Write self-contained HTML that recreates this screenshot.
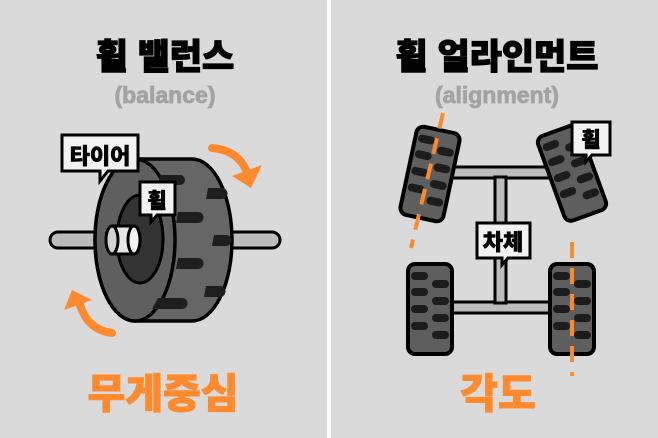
<!DOCTYPE html>
<html><head><meta charset="utf-8"><style>
html,body{margin:0;padding:0;background:#dadada;}
svg{display:block;}
text{font-family:"Liberation Sans","Noto Sans CJK KR",sans-serif;font-weight:900;}
</style></head><body>
<svg width="658" height="438" viewBox="0 0 658 438" xmlns="http://www.w3.org/2000/svg">
<defs>
<g id="tire">
  <rect x="-22" y="-45" width="44" height="90" rx="7" fill="#5e5e5e" stroke="#000" stroke-width="4"/>
  <g fill="#1c1c1c">
    <rect x="-19" y="-37" width="17" height="8" rx="4"/>
    <rect x="2" y="-29" width="17" height="8" rx="4"/>
    <rect x="-19" y="-21" width="17" height="8" rx="4"/>
    <rect x="2" y="-12" width="17" height="8" rx="4"/>
    <rect x="-19" y="-4" width="17" height="8" rx="4"/>
    <rect x="2" y="5" width="17" height="8" rx="4"/>
    <rect x="-19" y="13" width="17" height="8" rx="4"/>
    <rect x="2" y="22" width="17" height="8" rx="4"/>
  </g>
</g>
</defs>
<rect width="658" height="438" fill="#dadada"/>
<rect x="327" y="0" width="4" height="438" fill="#fff"/>

<!-- Left titles -->
<text x="165" y="69" font-size="35" text-anchor="middle" fill="#000" stroke="#000" stroke-width="1.2">휠 밸런스</text>
<text x="165" y="103" font-size="23" text-anchor="middle" fill="#a3a3a3" stroke="#a3a3a3" stroke-width="0.8">(balance)</text>
<text x="163" y="408" font-size="41" text-anchor="middle" fill="#ff8a2e" stroke="#ff8a2e" stroke-width="1">무게중심</text>

<!-- Right titles -->
<text x="497" y="69" font-size="35" text-anchor="middle" fill="#000" stroke="#000" stroke-width="1.2">휠 얼라인먼트</text>
<text x="497" y="103" font-size="23" text-anchor="middle" fill="#a3a3a3" stroke="#a3a3a3" stroke-width="0.8">(alignment)</text>
<text x="498" y="408" font-size="41" text-anchor="middle" fill="#ff8a2e" stroke="#ff8a2e" stroke-width="1">각도</text>

<!-- Wheel balance illustration -->
<rect x="50" y="232" width="230" height="16" rx="8" fill="#bdbdbd" stroke="#000" stroke-width="3"/>
<path d="M135,159 L192,159 A40,81 0 0 1 192,321 L135,321 A40,81 0 0 1 135,159 Z" fill="#666" stroke="#000" stroke-width="3.5"/>
<ellipse cx="135" cy="240" rx="40" ry="81" fill="#5f5f5f" stroke="#000" stroke-width="3.5"/>
<g fill="#1e1e1e">
  <path d="M160,175 h20 a5,5 0 0 1 0,10 h-22 z"/>
  <path d="M208,188 h14 a5,5 0 0 1 0,11 h-16 z"/>
  <path d="M178,212 h20 a5,5 0 0 1 0,11 h-22 z"/>
  <path d="M214,235 h12 a5,5 0 0 1 0,11 h-14 z"/>
  <path d="M178,258 h20 a5,5 0 0 1 0,11 h-22 z"/>
  <path d="M206,286 h14 a5,5 0 0 1 0,11 h-16 z"/>
  <path d="M158,298 h24 a5,5 0 0 1 0,11 h-30 z"/>
</g>
<ellipse cx="140" cy="239" rx="23" ry="44" fill="#333" stroke="#000" stroke-width="3"/>
<rect x="112" y="226" width="22" height="28" fill="#e6e6e6" stroke="#000" stroke-width="3"/>
<ellipse cx="134" cy="240" rx="6" ry="14" fill="#f2f2f2" stroke="#000" stroke-width="3"/>
<ellipse cx="112" cy="240" rx="6" ry="14" fill="#d0d0d0" stroke="#000" stroke-width="3"/>

<!-- arrows -->
<path d="M212,148 Q238,150 247,172" fill="none" stroke="#ff8a2e" stroke-width="8" stroke-linecap="round"/>
<polygon points="232,176 262,165 251,188" fill="#ff8a2e"/>
<path d="M112,333 Q88,330 80,305" fill="none" stroke="#ff8a2e" stroke-width="8" stroke-linecap="round"/>
<polygon points="64,310 72,290 92,300" fill="#ff8a2e"/>

<!-- labels -->
<path d="M62,135 H138 V171 H108 L100,181 V171 H62 Z" fill="#f2f2f2" stroke="#000" stroke-width="3"/>
<text x="100" y="164" font-size="22" text-anchor="middle" fill="#000" stroke="#000" stroke-width="0.6">타이어</text>
<path d="M140,182 H175 V215 H157 L151,222 V215 H140 Z" fill="#f2f2f2" stroke="#000" stroke-width="3"/>
<text x="157" y="208" font-size="21" text-anchor="middle" fill="#000" stroke="#000" stroke-width="0.6">휠</text>

<!-- Alignment illustration -->
<rect x="448" y="167" width="106" height="11" fill="#bdbdbd" stroke="#000" stroke-width="3"/>
<rect x="448" y="302" width="106" height="11" fill="#bdbdbd" stroke="#000" stroke-width="3"/>
<rect x="495" y="177" width="11" height="126" fill="#bdbdbd" stroke="#000" stroke-width="3"/>

<use href="#tire" transform="translate(430,174) rotate(12)"/>
<use href="#tire" transform="translate(572,173) rotate(-20)"/>
<use href="#tire" transform="translate(430,309)"/>
<use href="#tire" transform="translate(572,309)"/>

<line x1="443" y1="113" x2="411" y2="248" stroke="#ff8a2e" stroke-width="4" stroke-dasharray="16,10"/>
<line x1="572" y1="242" x2="572" y2="376" stroke="#ff8a2e" stroke-width="4" stroke-dasharray="16,10"/>

<path d="M477,223 H530 V258 H508 L502,265 V258 H477 Z" fill="#f2f2f2" stroke="#000" stroke-width="3"/>
<text x="503" y="250" font-size="22" text-anchor="middle" fill="#000" stroke="#000" stroke-width="0.6">차체</text>
<path d="M572,122 H610 V155 H592 L586,162 V155 H572 Z" fill="#f2f2f2" stroke="#000" stroke-width="3"/>
<text x="591" y="147" font-size="21" text-anchor="middle" fill="#000" stroke="#000" stroke-width="0.6">휠</text>
</svg>
</body></html>
